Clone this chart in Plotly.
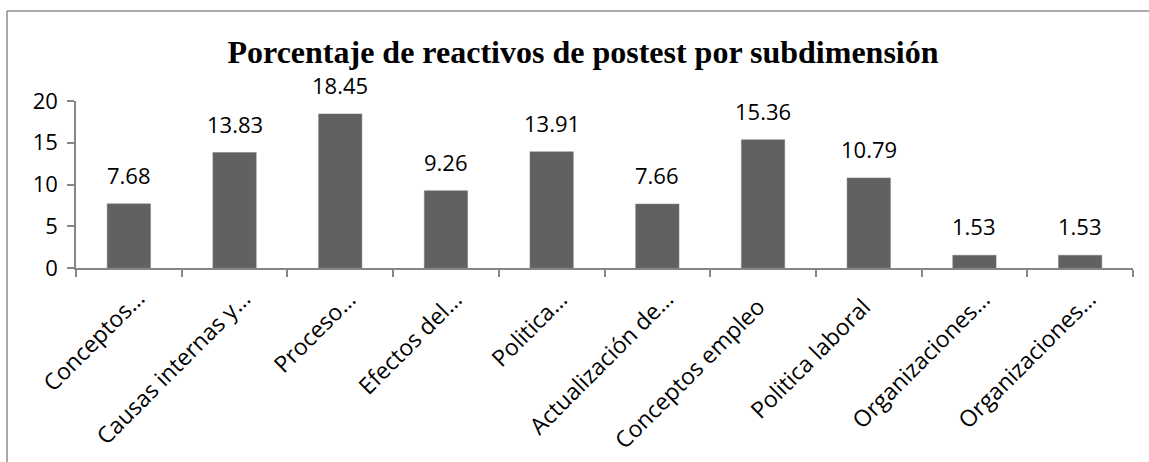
import plotly.graph_objects as go

categories = ["c0", "c1", "c2", "c3", "c4", "c5", "c6", "c7", "c8", "c9"]
tick_labels = ["Conceptos…", "Causas internas y…", "Proceso…", "Efectos del…",
               "Politica…", "Actualización de…", "Conceptos empleo",
               "Politica laboral", "Organizaciones…", "Organizaciones…"]
values = [7.68, 13.83, 18.45, 9.26, 13.91, 7.66, 15.36, 10.79, 1.53, 1.53]
value_labels = ["7.68", "13.83", "18.45", "9.26", "13.91", "7.66", "15.36", "10.79", "1.53", "1.53"]
title_text = "Porcentaje de reactivos de postest por subdimensión"

W, H = 1149, 462
L, R, T, B = 76, 16, 101, 194
pw, ph = W - L - R, H - T - B

def px_x(x):
    return (x - L) / pw

def px_y(y):
    return (H - B - y) / ph

FONT = "Open Sans"

fig = go.Figure()
fig.add_trace(go.Bar(
    x=categories, y=values,
    marker=dict(color="#616161", line=dict(color="#7a7a7a", width=0.5)),
    width=0.41,
    hoverinfo="skip",
))

annotations = []
for c, v, t in zip(categories, values, value_labels):
    annotations.append(dict(
        x=c, y=v, xref="x", yref="y", text=t, showarrow=False,
        yanchor="bottom", yshift=12,
        font=dict(family=FONT, size=22, color="black"),
    ))

# rotated category labels (Excel-style: truncated labels sit further up-right)
for c, t in zip(categories, tick_labels):
    truncated = t.endswith("…")
    annotations.append(dict(
        x=c, y=0, xref="x", yref="y", text=t, showarrow=False,
        textangle=-45, xanchor="right", yanchor="top",
        xshift=25 if truncated else 11, yshift=-12 if truncated else -20,
        font=dict(family=FONT, size=23, color="black"),
    ))

shapes = [
    dict(type="line", xref="paper", yref="paper",
         x0=px_x(7), x1=px_x(7), y0=px_y(H + 5), y1=px_y(11),
         line=dict(color="#8c8c8c", width=1.5)),
    dict(type="line", xref="paper", yref="paper",
         x0=px_x(7), x1=px_x(W + 5), y0=px_y(11), y1=px_y(11),
         line=dict(color="#8c8c8c", width=1.5)),
]

fig.update_layout(
    width=W, height=H,
    margin=dict(l=L, r=R, t=T, b=B, autoexpand=False),
    paper_bgcolor="white", plot_bgcolor="white",
    showlegend=False,
    title=dict(text="<b>" + title_text + "</b>", x=583 / W, xanchor="center",
               y=1 - 52 / H, yanchor="middle",
               font=dict(family="Liberation Serif", size=32, color="black")),
    annotations=annotations,
    shapes=shapes,
    xaxis=dict(
        type="category",
        tickvals=categories, ticktext=tick_labels,
        showticklabels=False,
        tickson="boundaries",
        ticks="outside", ticklen=7, tickcolor="#868686", tickwidth=1.5,
        showline=True, linecolor="#868686", linewidth=1.5,
        showgrid=False,
        range=[-0.5, 9.5],
        fixedrange=True,
    ),
    yaxis=dict(
        range=[0, 20], dtick=5, tick0=0,
        ticks="outside", ticklen=7, tickcolor="#868686", tickwidth=1.5,
        showline=True, linecolor="#868686", linewidth=1.5,
        showgrid=False, zeroline=False,
        tickfont=dict(family=FONT, size=22, color="black"),
        ticklabelstandoff=5,
        fixedrange=True,
    ),
)

fig.write_html("out.html", config={"displayModeBar": False},
               post_script="document.body.style.margin='0px';")
